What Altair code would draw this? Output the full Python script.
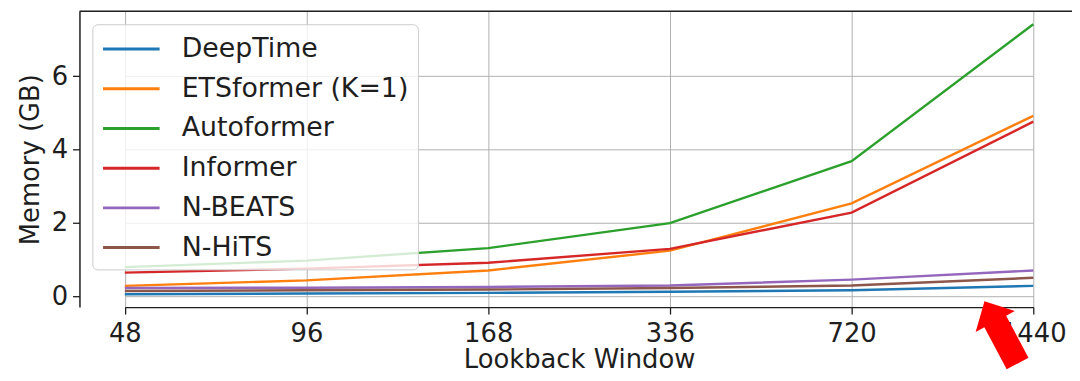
import altair as alt
import pandas as pd

# ---------------- data ----------------
lookback = ["48", "96", "168", "336", "720", "1440"]
series = ["DeepTime", "ETSformer (K=1)", "Autoformer", "Informer", "N-BEATS", "N-HiTS"]
colors = ["#1f77b4", "#ff7f0e", "#2ca02c", "#d62728", "#9467bd", "#8c564b"]

deeptime = [0.05, 0.07, 0.09, 0.12, 0.16, 0.28]
etsformer = [0.28, 0.43, 0.70, 1.24, 2.53, 4.92]
autoformer = [0.79, 0.97, 1.31, 1.99, 3.68, 7.42]
informer = [0.64, 0.75, 0.91, 1.29, 2.28, 4.76]
nbeats = [0.22, 0.23, 0.25, 0.29, 0.45, 0.70]
nhits = [0.14, 0.16, 0.18, 0.22, 0.29, 0.50]

y_ticks = [0, 2, 4, 6]
y_domain = [-0.3, 7.77]

# annotation arrow (pixel anchor inside plot, rotation in degrees)
arrow_anchor = [928.5, 323.5]
arrow_angle = 332
ARROW = "M0,-1 L0.63,-0.35 L0.35,-0.35 L0.35,1 L-0.35,1 L-0.35,-0.35 L-0.63,-0.35 Z"
# legend line symbol: a horizontal stroke, 4 units long, starting one unit left of centre
LEGEND_LINE = "M-1,0 H3"

# ---------------- table ----------------
values = [deeptime, etsformer, autoformer, informer, nbeats, nhits]
rows = []
for s, vals in zip(series, values):
    for lb, v in zip(lookback, vals):
        rows.append({"Lookback": lb, "Model": s, "Memory": v})
df = pd.DataFrame(rows)

W, H = 1000, 298
FONT = "DejaVu Sans"
INK = "#1e1e1e"

x_scale = alt.Scale(domain=lookback, range=[45.7, 961.0], padding=0)
y_scale = alt.Scale(domain=y_domain, nice=False, zero=False)

lines = alt.Chart(df).mark_line(strokeWidth=2.4).encode(
    x=alt.X("Lookback:O", scale=x_scale, sort=lookback,
            axis=alt.Axis(title="Lookback Window", labelAngle=0, grid=True,
                          labelPadding=7, titlePadding=0)),
    y=alt.Y("Memory:Q", scale=y_scale,
            axis=alt.Axis(title="Memory (GB)", values=y_ticks, grid=True,
                          labelPadding=5, titlePadding=8)),
    color=alt.Color("Model:N", sort=series,
                    scale=alt.Scale(domain=series, range=colors),
                    legend=alt.Legend(title=None, orient="none", legendX=13, legendY=13,
                                      symbolType=LEGEND_LINE, symbolSize=812,
                                      symbolStrokeWidth=3, symbolFillColor="transparent",
                                      labelFont=FONT,
                                      labelFontSize=27, labelColor=INK,
                                      labelOffset=49, labelLimit=400,
                                      rowPadding=11, padding=9,
                                      fillColor="rgba(255,255,255,0.8)",
                                      strokeColor="#cccccc", cornerRadius=5,
                                      zindex=1)),
)

top_frame = alt.Chart(pd.DataFrame({"f": [0]})).mark_rule(
    color=INK, strokeWidth=1.5
).encode(x=alt.value(0), x2=alt.value(W), y=alt.value(0))

arrow = alt.Chart(pd.DataFrame({"a": [0]})).mark_point(
    shape=ARROW, filled=True, color="#ff0000", opacity=1, size=5041,
    angle=arrow_angle, strokeWidth=0
).encode(x=alt.value(arrow_anchor[0]), y=alt.value(arrow_anchor[1]))

chart = alt.layer(lines, top_frame, arrow).properties(
    width=W, height=H,
    autosize=alt.AutoSizeParams(type="none"),
    padding={"left": 72, "top": 2, "right": 0, "bottom": 65},
    background="white",
).configure_view(stroke=None).configure_axis(
    labelFont=FONT, titleFont=FONT, labelFontSize=26, titleFontSize=26,
    labelColor=INK, titleColor=INK, titleFontWeight="normal",
    domainColor=INK, domainWidth=1.5, tickColor=INK, tickSize=7, tickWidth=1.3,
    gridColor="#b0b0b0", gridWidth=1,
)

chart.save("out.html", embed_options={"renderer": "svg", "actions": False})
